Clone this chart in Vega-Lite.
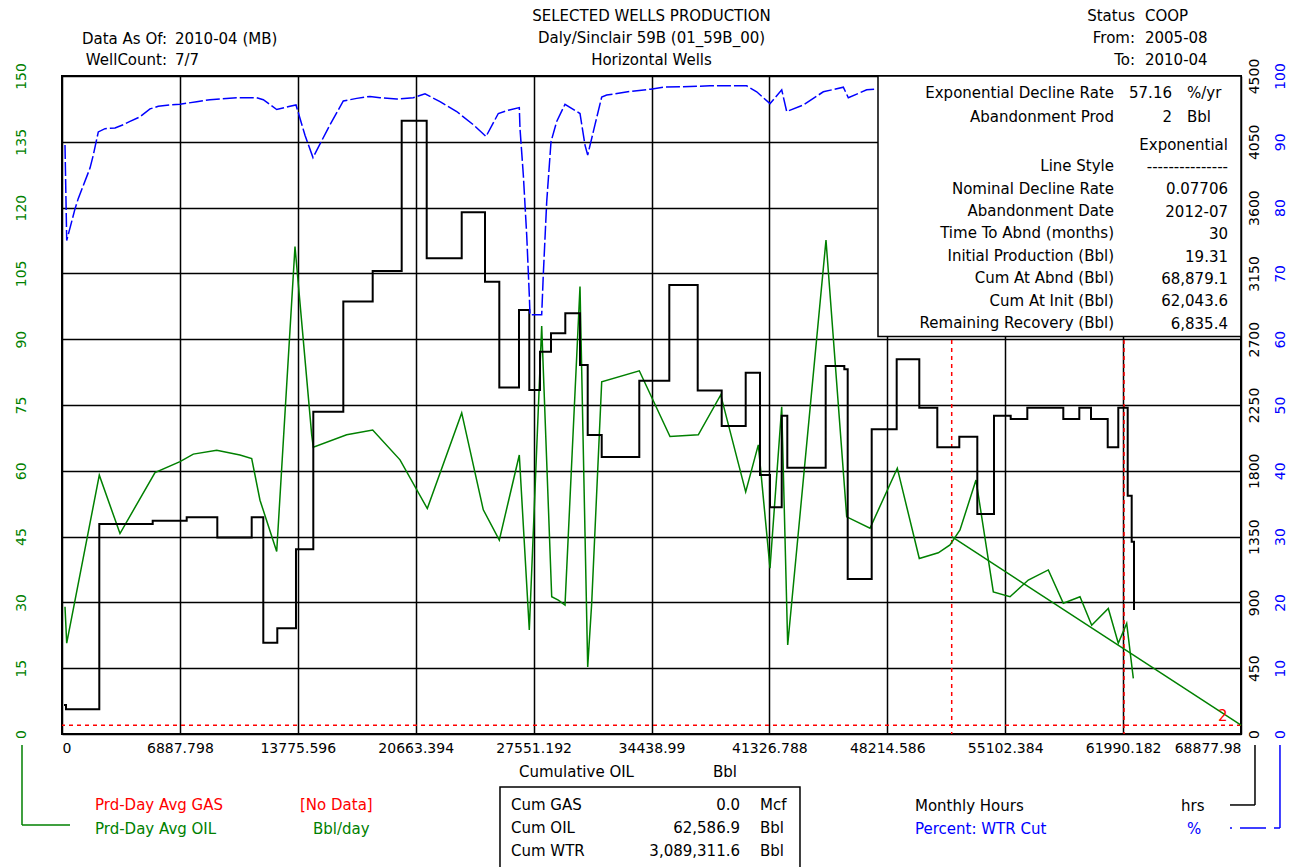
{
  "$schema": "https://vega.github.io/schema/vega-lite/v6.json",
  "width": 1179,
  "height": 658,
  "autosize": {"type": "none"},
  "padding": {"left": 62, "top": 76, "right": 48, "bottom": 133},
  "background": "white",
  "config": {
    "font": "DejaVu Sans",
    "view": {"stroke": "#000", "strokeWidth": 2},
    "text": {"font": "DejaVu Sans", "fontSize": 15}
  },
  "datasets": {
    "oil": [
      {"cum": 175, "oil": 29.0}, {"cum": 275, "oil": 20.7}, {"cum": 2179, "oil": 59.0}, {"cum": 3388, "oil": 45.7},
      {"cum": 5433, "oil": 59.6}, {"cum": 6894, "oil": 62.1}, {"cum": 7671, "oil": 63.8}, {"cum": 9038, "oil": 64.7},
      {"cum": 10399, "oil": 63.6}, {"cum": 11082, "oil": 62.8}, {"cum": 11567, "oil": 53.3}, {"cum": 12543, "oil": 41.6},
      {"cum": 13612, "oil": 111.1}, {"cum": 14588, "oil": 68.2}, {"cum": 14681, "oil": 65.4}, {"cum": 16632, "oil": 68.2},
      {"cum": 18151, "oil": 69.3}, {"cum": 19747, "oil": 62.5}, {"cum": 21341, "oil": 51.4}, {"cum": 23351, "oil": 73.2},
      {"cum": 24613, "oil": 51.1}, {"cum": 25548, "oil": 44.2}, {"cum": 26716, "oil": 63.6}, {"cum": 27300, "oil": 23.7},
      {"cum": 28024, "oil": 93.0}, {"cum": 28609, "oil": 31.3}, {"cum": 28995, "oil": 30.5}, {"cum": 29386, "oil": 29.4},
      {"cum": 30262, "oil": 102.0}, {"cum": 30712, "oil": 15.3}, {"cum": 30945, "oil": 29.8}, {"cum": 31530, "oil": 80.3},
      {"cum": 33726, "oil": 82.8}, {"cum": 35520, "oil": 67.8}, {"cum": 37173, "oil": 68.2}, {"cum": 38482, "oil": 77.3},
      {"cum": 39942, "oil": 55.2}, {"cum": 40679, "oil": 65.9}, {"cum": 41362, "oil": 37.8}, {"cum": 42046, "oil": 74.6},
      {"cum": 42396, "oil": 20.3}, {"cum": 44633, "oil": 112.6}, {"cum": 45843, "oil": 49.5}, {"cum": 47204, "oil": 46.9},
      {"cum": 48799, "oil": 60.6}, {"cum": 50084, "oil": 40.0}, {"cum": 51194, "oil": 41.3}, {"cum": 51877, "oil": 43.1},
      {"cum": 52461, "oil": 46.5}, {"cum": 53396, "oil": 57.9}, {"cum": 54408, "oil": 32.4}, {"cum": 55383, "oil": 31.3},
      {"cum": 56452, "oil": 35.1}, {"cum": 57621, "oil": 37.4}, {"cum": 58497, "oil": 29.8}, {"cum": 59472, "oil": 31.3},
      {"cum": 60156, "oil": 24.8}, {"cum": 61126, "oil": 28.6}, {"cum": 61709, "oil": 20.7}, {"cum": 62200, "oil": 25.2},
      {"cum": 62587, "oil": 12.7}
    ],
    "hrs": [
      {"cum": 117, "hrs": 198}, {"cum": 234, "hrs": 169}, {"cum": 2179, "hrs": 1436}, {"cum": 5299, "hrs": 1459},
      {"cum": 7285, "hrs": 1482}, {"cum": 9073, "hrs": 1343}, {"cum": 11082, "hrs": 1482}, {"cum": 11760, "hrs": 624},
      {"cum": 12578, "hrs": 723}, {"cum": 13670, "hrs": 1263}, {"cum": 14681, "hrs": 2204}, {"cum": 16434, "hrs": 2957},
      {"cum": 18151, "hrs": 3166}, {"cum": 19845, "hrs": 4194}, {"cum": 21306, "hrs": 3253}, {"cum": 23351, "hrs": 3568},
      {"cum": 24712, "hrs": 3093}, {"cum": 25548, "hrs": 2369}, {"cum": 26698, "hrs": 2900}, {"cum": 27300, "hrs": 2353},
      {"cum": 27925, "hrs": 2615}, {"cum": 28568, "hrs": 2740}, {"cum": 29403, "hrs": 2877}, {"cum": 30262, "hrs": 2524},
      {"cum": 30712, "hrs": 2045}, {"cum": 31530, "hrs": 1894}, {"cum": 33726, "hrs": 2416}, {"cum": 35479, "hrs": 3071},
      {"cum": 37138, "hrs": 2350}, {"cum": 38540, "hrs": 2106}, {"cum": 39942, "hrs": 2471}, {"cum": 40778, "hrs": 1771},
      {"cum": 41362, "hrs": 1550}, {"cum": 42046, "hrs": 2177}, {"cum": 42373, "hrs": 1821}, {"cum": 44615, "hrs": 2517},
      {"cum": 45703, "hrs": 2494}, {"cum": 45901, "hrs": 1060}, {"cum": 47303, "hrs": 2085}, {"cum": 48763, "hrs": 2563},
      {"cum": 50084, "hrs": 2231}, {"cum": 51136, "hrs": 1961}, {"cum": 52421, "hrs": 2033}, {"cum": 53473, "hrs": 1505},
      {"cum": 54448, "hrs": 2177}, {"cum": 55424, "hrs": 2154}, {"cum": 56394, "hrs": 2231}, {"cum": 58497, "hrs": 2154},
      {"cum": 59432, "hrs": 2231}, {"cum": 60115, "hrs": 2154}, {"cum": 61091, "hrs": 1961}, {"cum": 61709, "hrs": 2231},
      {"cum": 62259, "hrs": 1630}, {"cum": 62492, "hrs": 1315}, {"cum": 62627, "hrs": 848}
    ],
    "wtr": [
      {"cum": 175, "wtr": 89.5}, {"cum": 275, "wtr": 75.0}, {"cum": 759, "wtr": 79.8}, {"cum": 952, "wtr": 81.4},
      {"cum": 1636, "wtr": 86.0}, {"cum": 1829, "wtr": 88.0}, {"cum": 2121, "wtr": 91.5}, {"cum": 2512, "wtr": 92.0},
      {"cum": 3096, "wtr": 92.1}, {"cum": 3581, "wtr": 92.6}, {"cum": 3973, "wtr": 93.1}, {"cum": 4557, "wtr": 93.8},
      {"cum": 5141, "wtr": 95.0}, {"cum": 5626, "wtr": 95.4}, {"cum": 6309, "wtr": 95.6}, {"cum": 6894, "wtr": 95.7},
      {"cum": 7869, "wtr": 96.1}, {"cum": 8646, "wtr": 96.4}, {"cum": 10206, "wtr": 96.7}, {"cum": 11374, "wtr": 96.7},
      {"cum": 11760, "wtr": 96.4}, {"cum": 12543, "wtr": 94.9}, {"cum": 13320, "wtr": 95.4}, {"cum": 13670, "wtr": 95.6},
      {"cum": 14196, "wtr": 91.0}, {"cum": 14663, "wtr": 87.6}, {"cum": 15598, "wtr": 92.3}, {"cum": 16434, "wtr": 96.2},
      {"cum": 17217, "wtr": 96.6}, {"cum": 17994, "wtr": 96.9}, {"cum": 18578, "wtr": 96.7}, {"cum": 19553, "wtr": 96.5},
      {"cum": 20523, "wtr": 96.7}, {"cum": 21207, "wtr": 97.3}, {"cum": 22083, "wtr": 96.1}, {"cum": 23059, "wtr": 94.6},
      {"cum": 24029, "wtr": 92.6}, {"cum": 24770, "wtr": 90.8}, {"cum": 25489, "wtr": 94.3}, {"cum": 26073, "wtr": 94.8},
      {"cum": 26716, "wtr": 95.2}, {"cum": 26757, "wtr": 92.0}, {"cum": 26950, "wtr": 85.0}, {"cum": 27149, "wtr": 75.8},
      {"cum": 27300, "wtr": 66.7}, {"cum": 27341, "wtr": 63.7}, {"cum": 28024, "wtr": 63.7}, {"cum": 28118, "wtr": 69.8},
      {"cum": 28317, "wtr": 80.9}, {"cum": 28568, "wtr": 90.0}, {"cum": 28901, "wtr": 93.1}, {"cum": 29386, "wtr": 95.7},
      {"cum": 30262, "wtr": 94.3}, {"cum": 30554, "wtr": 89.5}, {"cum": 30712, "wtr": 88.0}, {"cum": 31138, "wtr": 92.6},
      {"cum": 31530, "wtr": 96.8}, {"cum": 31822, "wtr": 97.1}, {"cum": 33317, "wtr": 97.7}, {"cum": 34391, "wtr": 98.0},
      {"cum": 35129, "wtr": 98.3}, {"cum": 37856, "wtr": 98.5}, {"cum": 40000, "wtr": 98.5}, {"cum": 40585, "wtr": 97.6},
      {"cum": 41362, "wtr": 95.8}, {"cum": 42046, "wtr": 97.9}, {"cum": 42338, "wtr": 94.6}, {"cum": 43308, "wtr": 95.6},
      {"cum": 44477, "wtr": 97.6}, {"cum": 45645, "wtr": 98.3}, {"cum": 45937, "wtr": 96.7}, {"cum": 47011, "wtr": 97.9},
      {"cum": 47595, "wtr": 98.0}
    ],
    "decline": [{"cum": 51977, "oil": 45.0}, {"cum": 68879.1, "oil": 2.0}],
    "markers": [{"cum": 51977}, {"cum": 62043.6}]
  },
  "layer": [
    {
      "layer": [
        {
          "data": {"name": "markers"},
          "mark": {"type": "rule", "color": "#ff0000", "strokeWidth": 1.5, "strokeDash": [4, 4]},
          "encoding": {
            "x": {
              "field": "cum", "type": "quantitative",
              "scale": {"domain": [0, 68877.98], "nice": false, "zero": false},
              "axis": {
                "values": [0, 6887.798, 13775.596, 20663.394, 27551.192, 34438.99, 41326.788, 48214.586, 55102.384, 61990.182, 68877.98],
                "format": ".10~g", "labelFlush": true, "labelOverlap": false, "labelBound": false,
                "grid": true, "gridColor": "#000", "gridWidth": 1.5, "gridOpacity": 1,
                "domain": false, "ticks": false, "tickSize": 0, "labelPadding": 7,
                "labelFontSize": 14, "labelColor": "#000", "title": null, "zindex": 0
              }
            }
          }
        },
        {
          "data": {"values": [{}]},
          "mark": {"type": "rule", "color": "#ff0000", "strokeWidth": 1.5, "strokeDash": [4, 4]},
          "encoding": {"y": {"datum": 2, "type": "quantitative"}}
        },
        {
          "data": {"values": [{}]},
          "mark": {"type": "rect", "fill": "#fff", "stroke": "#000", "strokeWidth": 1.5},
          "encoding": {
            "x": {"datum": 47671, "type": "quantitative"}, "x2": {"datum": 68877.98},
            "y": {"datum": 150, "type": "quantitative"}, "y2": {"datum": 90.6}
          }
        },
        {
          "data": {"values": [{}]},
          "mark": {"type": "rect", "fill": "#fff", "stroke": "#000", "strokeWidth": 1.5},
          "encoding": {
            "x": {"datum": 25588, "type": "quantitative"}, "x2": {"datum": 43114},
            "y": {"datum": -12.08, "type": "quantitative"}, "y2": {"datum": -31}
          }
        },
        {
          "data": {"name": "oil"},
          "mark": {"type": "line", "color": "#008000", "strokeWidth": 1.5},
          "encoding": {
            "x": {"field": "cum", "type": "quantitative"},
            "y": {
              "field": "oil", "type": "quantitative",
              "scale": {"domain": [0, 150], "nice": false, "zero": false},
              "axis": {
                "orient": "left", "values": [0, 15, 30, 45, 60, 75, 90, 105, 120, 135, 150],
                "grid": true, "gridColor": "#000", "gridWidth": 1.5, "gridOpacity": 1,
                "domain": false, "ticks": false, "tickSize": 0,
                "labelAngle": 270, "labelAlign": "center", "labelBaseline": "bottom",
                "labelPadding": 34, "labelColor": "#008000", "labelFontSize": 14,
                "labelOverlap": false, "labelBound": false, "title": null, "zindex": 0
              }
            }
          }
        },
        {
          "data": {"name": "decline"},
          "mark": {"type": "line", "color": "#008000", "strokeWidth": 1.5},
          "encoding": {
            "x": {"field": "cum", "type": "quantitative"},
            "y": {"field": "oil", "type": "quantitative"}
          }
        },
        {
          "data": {"values": [{}]},
          "mark": {"type": "text", "align": "center", "baseline": "top", "lineHeight": 22, "color": "#000", "text": ["SELECTED WELLS PRODUCTION", "Daly/Sinclair 59B (01_59B_00)", "Horizontal Wells"]},
          "encoding": {"x": {"datum": 34439, "type": "quantitative"}, "y": {"datum": 165.37, "type": "quantitative"}}
        },
        {
          "data": {"values": [{}]},
          "mark": {"type": "text", "align": "right", "baseline": "top", "lineHeight": 21, "color": "#000", "text": ["Data As Of:", "WellCount:"]},
          "encoding": {"x": {"datum": 6134, "type": "quantitative"}, "y": {"datum": 160.13, "type": "quantitative"}}
        },
        {
          "data": {"values": [{}]},
          "mark": {"type": "text", "align": "left", "baseline": "top", "lineHeight": 21, "color": "#000", "text": ["2010-04 (MB)", "7/7"]},
          "encoding": {"x": {"datum": 6601, "type": "quantitative"}, "y": {"datum": 160.13, "type": "quantitative"}}
        },
        {
          "data": {"values": [{}]},
          "mark": {"type": "text", "align": "right", "baseline": "top", "lineHeight": 22, "color": "#000", "text": ["Status", "From:", "To:"]},
          "encoding": {"x": {"datum": 62685, "type": "quantitative"}, "y": {"datum": 165.37, "type": "quantitative"}}
        },
        {
          "data": {"values": [{}]},
          "mark": {"type": "text", "align": "left", "baseline": "top", "lineHeight": 22, "color": "#000", "text": ["COOP", "2005-08", "2010-04"]},
          "encoding": {"x": {"datum": 63269, "type": "quantitative"}, "y": {"datum": 165.37, "type": "quantitative"}}
        },
        {
          "data": {"values": [{}]},
          "mark": {"type": "text", "align": "right", "baseline": "top", "lineHeight": 23.7, "color": "#000", "text": ["Exponential Decline Rate", "Abandonment Prod"]},
          "encoding": {"x": {"datum": 61458, "type": "quantitative"}, "y": {"datum": 147.76, "type": "quantitative"}}
        },
        {
          "data": {"values": [{}]},
          "mark": {"type": "text", "align": "right", "baseline": "top", "lineHeight": 23.7, "color": "#000", "text": ["57.16", "2"]},
          "encoding": {"x": {"datum": 64846, "type": "quantitative"}, "y": {"datum": 147.76, "type": "quantitative"}}
        },
        {
          "data": {"values": [{}]},
          "mark": {"type": "text", "align": "left", "baseline": "top", "lineHeight": 23.7, "color": "#000", "text": ["%/yr", "Bbl"]},
          "encoding": {"x": {"datum": 65722, "type": "quantitative"}, "y": {"datum": 147.76, "type": "quantitative"}}
        },
        {
          "data": {"values": [{}]},
          "mark": {"type": "text", "align": "right", "baseline": "top", "lineHeight": 22.4, "color": "#000", "text": ["Line Style", "Nominal Decline Rate", "Abandonment Date", "Time To Abnd (months)", "Initial Production (Bbl)", "Cum At Abnd (Bbl)", "Cum At Init (Bbl)", "Remaining Recovery (Bbl)"]},
          "encoding": {"x": {"datum": 61458, "type": "quantitative"}, "y": {"datum": 131.02, "type": "quantitative"}}
        },
        {
          "data": {"values": [{}]},
          "mark": {"type": "text", "align": "right", "baseline": "top", "lineHeight": 22.4, "color": "#000", "text": ["Exponential", "---------------", "0.07706", "2012-07", "30", "19.31", "68,879.1", "62,043.6", "6,835.4"]},
          "encoding": {"x": {"datum": 68118, "type": "quantitative"}, "y": {"datum": 135.97, "type": "quantitative"}}
        },
        {
          "data": {"values": [{}]},
          "mark": {"type": "text", "align": "center", "baseline": "top", "color": "#ff0000", "text": "2"},
          "encoding": {"x": {"datum": 67808, "type": "quantitative"}, "y": {"datum": 5.81, "type": "quantitative"}}
        },
        {
          "data": {"values": [{}]},
          "mark": {"type": "text", "align": "left", "baseline": "top", "color": "#000", "text": "Cumulative OIL"},
          "encoding": {"x": {"datum": 26698, "type": "quantitative"}, "y": {"datum": -7.18, "type": "quantitative"}}
        },
        {
          "data": {"values": [{}]},
          "mark": {"type": "text", "align": "left", "baseline": "top", "color": "#000", "text": "Bbl"},
          "encoding": {"x": {"datum": 38032, "type": "quantitative"}, "y": {"datum": -7.18, "type": "quantitative"}}
        },
        {
          "data": {"values": [{}]},
          "mark": {"type": "text", "align": "left", "baseline": "top", "color": "#ff0000", "text": "Prd-Day Avg GAS"},
          "encoding": {"x": {"datum": 1928, "type": "quantitative"}, "y": {"datum": -14.7, "type": "quantitative"}}
        },
        {
          "data": {"values": [{}]},
          "mark": {"type": "text", "align": "left", "baseline": "top", "color": "#ff0000", "text": "[No Data]"},
          "encoding": {"x": {"datum": 13904, "type": "quantitative"}, "y": {"datum": -14.7, "type": "quantitative"}}
        },
        {
          "data": {"values": [{}]},
          "mark": {"type": "text", "align": "left", "baseline": "top", "color": "#008000", "text": "Prd-Day Avg OIL"},
          "encoding": {"x": {"datum": 1928, "type": "quantitative"}, "y": {"datum": -19.95, "type": "quantitative"}}
        },
        {
          "data": {"values": [{}]},
          "mark": {"type": "text", "align": "left", "baseline": "top", "color": "#008000", "text": "Bbl/day"},
          "encoding": {"x": {"datum": 14663, "type": "quantitative"}, "y": {"datum": -19.95, "type": "quantitative"}}
        },
        {
          "data": {"values": [{}]},
          "mark": {"type": "text", "align": "left", "baseline": "top", "lineHeight": 23, "color": "#000", "text": ["Cum GAS", "Cum OIL", "Cum WTR"]},
          "encoding": {"x": {"datum": 26231, "type": "quantitative"}, "y": {"datum": -14.7, "type": "quantitative"}}
        },
        {
          "data": {"values": [{}]},
          "mark": {"type": "text", "align": "right", "baseline": "top", "lineHeight": 23, "color": "#000", "text": ["0.0", "62,586.9", "3,089,311.6"]},
          "encoding": {"x": {"datum": 39609, "type": "quantitative"}, "y": {"datum": -14.7, "type": "quantitative"}}
        },
        {
          "data": {"values": [{}]},
          "mark": {"type": "text", "align": "left", "baseline": "top", "lineHeight": 23, "color": "#000", "text": ["Mcf", "Bbl", "Bbl"]},
          "encoding": {"x": {"datum": 40777, "type": "quantitative"}, "y": {"datum": -14.7, "type": "quantitative"}}
        },
        {
          "data": {"values": [{}]},
          "mark": {"type": "text", "align": "left", "baseline": "top", "color": "#000", "text": "Monthly Hours"},
          "encoding": {"x": {"datum": 49832, "type": "quantitative"}, "y": {"datum": -14.93, "type": "quantitative"}}
        },
        {
          "data": {"values": [{}]},
          "mark": {"type": "text", "align": "left", "baseline": "top", "color": "#000", "text": "hrs"},
          "encoding": {"x": {"datum": 65372, "type": "quantitative"}, "y": {"datum": -14.93, "type": "quantitative"}}
        },
        {
          "data": {"values": [{}]},
          "mark": {"type": "text", "align": "left", "baseline": "top", "color": "#0000ff", "text": "Percent: WTR Cut"},
          "encoding": {"x": {"datum": 49832, "type": "quantitative"}, "y": {"datum": -19.95, "type": "quantitative"}}
        },
        {
          "data": {"values": [{}]},
          "mark": {"type": "text", "align": "left", "baseline": "top", "color": "#0000ff", "text": "%"},
          "encoding": {"x": {"datum": 65722, "type": "quantitative"}, "y": {"datum": -19.95, "type": "quantitative"}}
        },
        {
          "data": {"values": [{}]},
          "mark": {"type": "rule", "color": "#008000", "strokeWidth": 1.5},
          "encoding": {"x": {"datum": -2337, "type": "quantitative"}, "y": {"datum": -2.5, "type": "quantitative"}, "y2": {"datum": -20.74}}
        },
        {
          "data": {"values": [{}]},
          "mark": {"type": "rule", "color": "#008000", "strokeWidth": 1.5},
          "encoding": {"x": {"datum": -2337, "type": "quantitative"}, "x2": {"datum": 467}, "y": {"datum": -20.74, "type": "quantitative"}}
        },
        {
          "data": {"values": [{}]},
          "mark": {"type": "rule", "color": "#000", "strokeWidth": 1.5},
          "encoding": {"x": {"datum": 69695, "type": "quantitative"}, "y": {"datum": -2.5, "type": "quantitative"}, "y2": {"datum": -16.18}}
        },
        {
          "data": {"values": [{}]},
          "mark": {"type": "rule", "color": "#000", "strokeWidth": 1.5},
          "encoding": {"x": {"datum": 68235, "type": "quantitative"}, "x2": {"datum": 69695}, "y": {"datum": -16.18, "type": "quantitative"}}
        },
        {
          "data": {"values": [{}]},
          "mark": {"type": "rule", "color": "#0000ff", "strokeWidth": 1.5},
          "encoding": {"x": {"datum": 71155, "type": "quantitative"}, "y": {"datum": -2.5, "type": "quantitative"}, "y2": {"datum": -21.43}}
        },
        {
          "data": {"values": [{}]},
          "mark": {"type": "rule", "color": "#0000ff", "strokeWidth": 1.5, "strokeDash": [2, 8, 24, 0]},
          "encoding": {"x": {"datum": 68235, "type": "quantitative"}, "x2": {"datum": 71155}, "y": {"datum": -21.43, "type": "quantitative"}}
        }
      ]
    },
    {
      "data": {"name": "hrs"},
      "mark": {"type": "line", "color": "#000", "strokeWidth": 2, "interpolate": "step-after"},
      "encoding": {
        "x": {"field": "cum", "type": "quantitative"},
        "y": {
          "field": "hrs", "type": "quantitative",
          "scale": {"domain": [0, 4500], "nice": false, "zero": false},
          "axis": {
            "orient": "right", "values": [0, 450, 900, 1350, 1800, 2250, 2700, 3150, 3600, 4050, 4500],
            "format": "d", "grid": false, "domain": false, "ticks": false, "tickSize": 0,
            "labelAngle": 270, "labelAlign": "center", "labelBaseline": "top",
            "labelPadding": 6, "labelColor": "#000", "labelFontSize": 14,
            "labelOverlap": false, "labelBound": false, "title": null
          }
        }
      }
    },
    {
      "data": {"name": "wtr"},
      "mark": {"type": "line", "color": "#0000ff", "strokeWidth": 1.5, "strokeDash": [14, 3]},
      "encoding": {
        "x": {"field": "cum", "type": "quantitative"},
        "y": {
          "field": "wtr", "type": "quantitative",
          "scale": {"domain": [0, 100], "nice": false, "zero": false},
          "axis": {
            "orient": "right", "values": [0, 10, 20, 30, 40, 50, 60, 70, 80, 90, 100],
            "grid": false, "domain": false, "ticks": false, "tickSize": 0,
            "labelAngle": 270, "labelAlign": "center", "labelBaseline": "top",
            "labelPadding": 32, "labelColor": "#0000ff", "labelFontSize": 14,
            "labelOverlap": false, "labelBound": false, "title": null
          }
        }
      }
    }
  ],
  "resolve": {"scale": {"y": "independent"}, "axis": {"y": "independent"}}
}
